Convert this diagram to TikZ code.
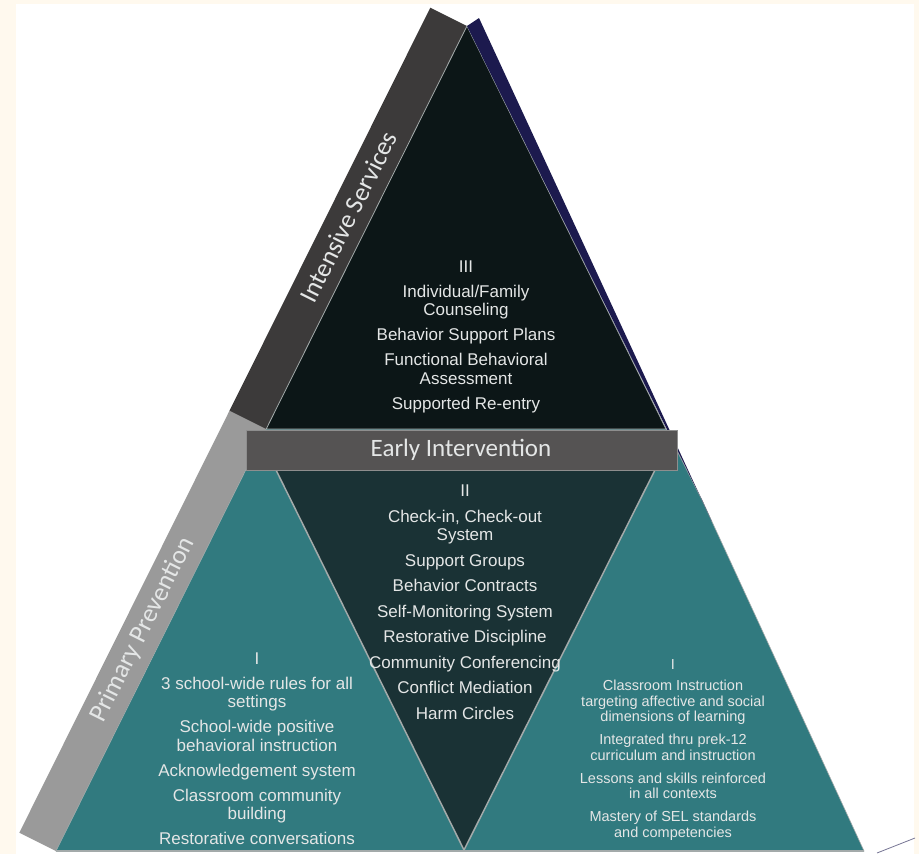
\documentclass[tikz,border=0pt]{standalone}
\usepackage{fontspec}
\setmainfont{Liberation Sans}
\newfontfamily\calib{Carlito}
\usetikzlibrary{calc}
\definecolor{cream}{HTML}{FFF9EE}
\definecolor{dband}{HTML}{3C3A3A}
\definecolor{lband}{HTML}{9A9A9A}
\definecolor{blk}{HTML}{0C1617}
\definecolor{tealc}{HTML}{317A7F}
\definecolor{invc}{HTML}{1A3235}
\definecolor{barc}{HTML}{555353}
\definecolor{barl}{HTML}{8E8E8E}
\definecolor{navyc}{HTML}{1C1A4E}
\definecolor{sep}{HTML}{A3AAAA}
\definecolor{txt}{HTML}{E4E6E6}
\tikzset{
  tx/.style={text=txt, align=center, anchor=base, inner sep=0pt,
    font=\fontsize{17}{18.5}\selectfont},
  txs/.style={text=txt, align=center, anchor=base, inner sep=0pt,
    font=\fontsize{14.5}{15.5}\selectfont},
  bandlabel/.style={text=txt, inner sep=0pt, rotate=63.5,
    font=\calib\fontsize{26}{28}\selectfont}
}
\begin{document}
\begin{tikzpicture}[x=1pt,y=-1pt]
\useasboundingbox (0,0) rectangle (919,854);
\fill[cream] (0,0) rectangle (919,854);
\fill[white] (16,4) rectangle (914,854);
% key points
\coordinate (A) at (467,26);
\coordinate (BL) at (56,851);
\coordinate (BR) at (864,851);
\coordinate (RM) at (702,500);
\coordinate (P) at (266.2,429);
\coordinate (Q) at (666,429);
\coordinate (A2) at ($(A)!41pt!-90:(BL)$);
\coordinate (P2) at ($(P)!41pt!-90:(BL)$);
\coordinate (BL2) at ($(BL)!41pt!90:(A)$);
% side bands
\fill[lband] (P) -- (BL) -- (BL2) -- (P2) -- cycle;
\fill[dband] (A) -- (P) -- (P2) -- (A2) -- cycle;
% teal lower body
\filldraw[fill=tealc, draw=sep, line width=0.6] (P) -- (BL) -- (BR) -- (RM) -- (Q) -- cycle;
% top tier
\filldraw[fill=blk, draw=sep, line width=0.8] (A) -- (P) -- (Q) -- cycle;
% navy edge
\fill[navyc] (A) -- (479,18) -- (711.6,521) -- (RM) -- cycle;
% middle inverted tier
\filldraw[fill=invc, draw=sep, line width=1.5] (276,470) -- (655,470) -- (464,850) -- cycle;
% bottom line
\draw[sep, line width=2] (BL) -- (BR);
\draw[navyc!60, line width=0.8] (877,853) -- (915,838);
% bar
\filldraw[fill=barc, draw=barl, line width=1] (246,430) rectangle (677,470);
\node[text=txt, inner sep=0pt, font=\calib\fontsize{25}{27}\selectfont] (ei) at (461,450) {Early Intervention};
% band labels
\node[bandlabel] (is) at (348.5,217) {Intensive Services};
\node[bandlabel] (pp) at (143,630) {Primary Prevention};
% texts (anchor = baseline of last line)
\node[tx] (t3) at (466,409) {III\\[6.5pt]Individual/Family\\Counseling\\[6.5pt]Behavior Support Plans\\[6.5pt]Functional Behavioral\\Assessment\\[6.5pt]Supported Re-entry};
\node[tx] (t2) at (465,719) {II\\[7pt]Check-in, Check-out\\System\\[7pt]Support Groups\\[7pt]Behavior Contracts\\[7pt]Self-Monitoring System\\[7pt]Restorative Discipline\\[7pt]Community Conferencing\\[7pt]Conflict Mediation\\[7pt]Harm Circles};
\node[tx] (t1l) at (257,844.5) {I\\[6.5pt]3 school-wide rules for all\\settings\\[6.5pt]School-wide positive\\behavioral instruction\\[6.5pt]Acknowledgement system\\[6.5pt]Classroom community\\building\\[6.5pt]Restorative conversations};
\node[txs] (t1r) at (673,837) {I\\[5.5pt]Classroom Instruction\\targeting affective and social\\dimensions of learning\\[7.5pt]Integrated thru prek-12\\curriculum and instruction\\[7.5pt]Lessons and skills reinforced\\in all contexts\\[7.5pt]Mastery of SEL standards\\and competencies};
\end{tikzpicture}
\end{document}
